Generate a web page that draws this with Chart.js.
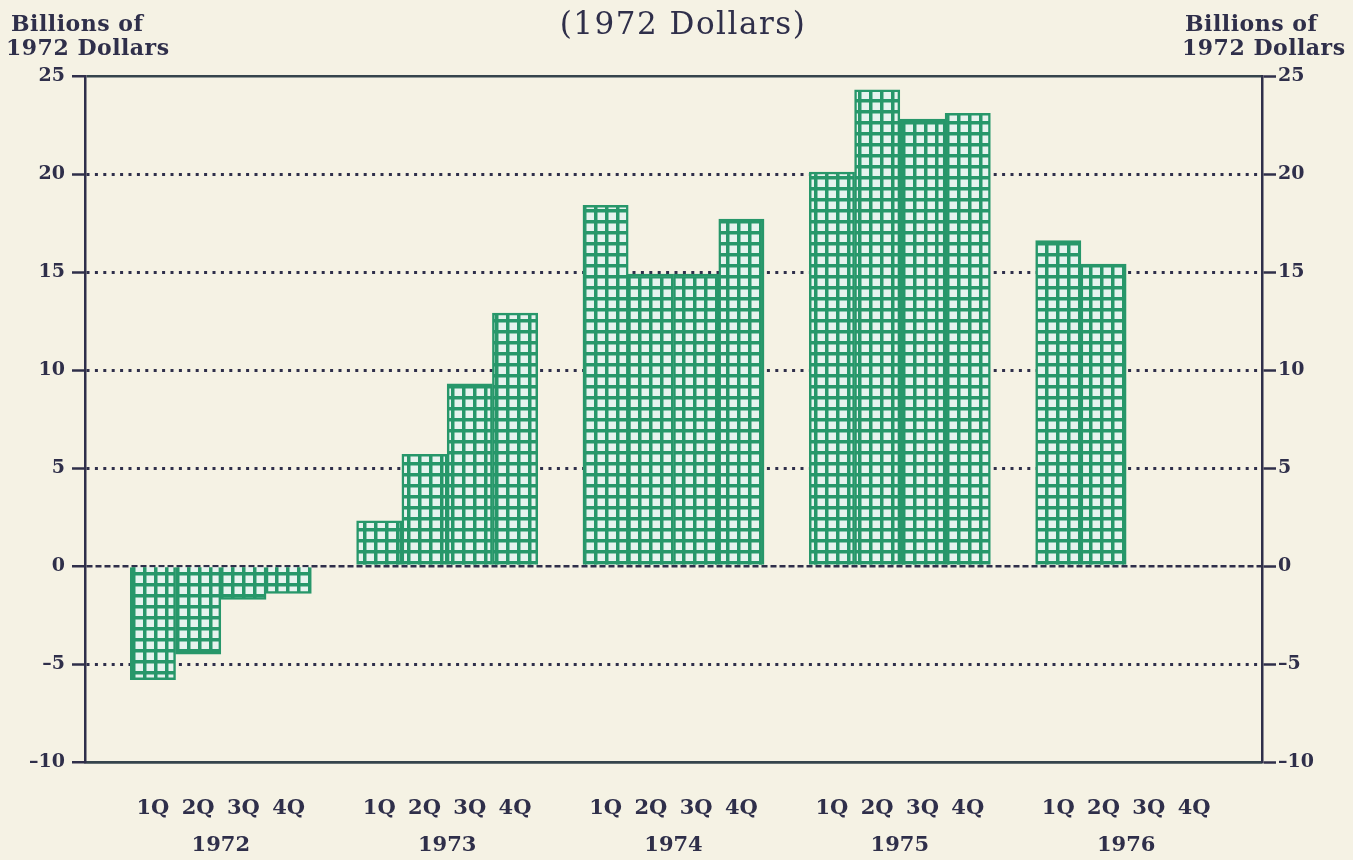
<!DOCTYPE html>
<html>
<head>
<meta charset="utf-8">
<script src="https://cdn.jsdelivr.net/npm/chart.js@4"></script>
<style>
  html, body { margin: 0; padding: 0; background: #f5f2e4; }
  #wrap { width: 1353px; height: 860px; position: relative; }
</style>
</head>
<body>
<div id="wrap"><canvas id="chart"></canvas></div>
<script>
// values (billions of 1972 dollars)
const years = ['1972', '1973', '1974', '1975', '1976'];
const quarters = ['1Q', '2Q', '3Q', '4Q'];
const q1972 = [-5.8, -4.5, -1.7, -1.4];
const q1973 = [2.3, 5.7, 9.3, 12.9];
const q1974 = [18.4, 14.9, 14.9, 17.7];
const q1975 = [20.1, 24.3, 22.8, 23.1];
const q1976 = [16.6, 15.4, null, null];
const yTicks = [-10, -5, 0, 5, 10, 15, 20, 25];

const paper = '#f5f2e4';
const ink = '#2f2f4a';
const frame = '#35444c';
const green = '#27976a';

// build category slots: an empty slot before each year and one at the end
const yearValues = [q1972, q1973, q1974, q1975, q1976];
const labels = [];
const values = [];
yearValues.forEach(vals => {
    labels.push('');
    values.push(null);
    quarters.forEach((q, i) => {
        labels.push(q);
        values.push(vals[i]);
    });
});
labels.push('');
values.push(null);

// green grid fill for the bars
function makePattern() {
    const c = document.createElement('canvas');
    c.width = 11; c.height = 11;
    const g = c.getContext('2d');
    g.fillStyle = '#e6f3ee';
    g.fillRect(0, 0, 11, 11);
    g.fillStyle = green;
    g.fillRect(0, 0, 11, 3.5);
    g.fillRect(0, 0, 3.5, 11);
    return g.createPattern(c, 'repeat');
}

const serif = '"DejaVu Serif", "Liberation Serif", serif';

const paperPlugin = {
    id: 'paper',
    beforeDraw(chart) {
        const ctx = chart.ctx;
        ctx.save();
        ctx.fillStyle = paper;
        ctx.fillRect(0, 0, chart.width, chart.height);
        ctx.restore();
    }
};

const textPlugin = {
    id: 'texts',
    afterDraw(chart) {
        const ctx = chart.ctx;
        const x = chart.scales.x;
        ctx.save();
        ctx.fillStyle = ink;

        // title
        ctx.font = '31px ' + serif;
        ctx.letterSpacing = '1.5px';
        ctx.textAlign = 'center';
        ctx.textBaseline = 'alphabetic';
        ctx.fillText('(1972 Dollars)', 683, 34);

        // axis unit labels
        ctx.font = 'bold 22px ' + serif;
        ctx.letterSpacing = '0.5px';
        ctx.textAlign = 'left';
        ctx.fillText('Billions of', 11, 31);
        ctx.fillText('1972 Dollars', 6, 55);
        ctx.fillText('Billions of', 1185, 31);
        ctx.fillText('1972 Dollars', 1182, 55);

        // year labels centred under each group
        ctx.letterSpacing = '0px';
        ctx.font = 'bold 21px ' + serif;
        ctx.textAlign = 'center';
        ctx.textBaseline = 'middle';
        years.forEach((yr, i) => {
            const i2 = i * 5 + 2;
            const cx = (x.getPixelForValue(i2) + x.getPixelForValue(i2 + 1)) / 2;
            ctx.fillText(yr, cx, 846);
        });
        ctx.restore();
    }
};

function tickText(v) {
    return v < 0 ? '\u2013' + Math.abs(v) : String(v);
}

const ctx = document.getElementById('chart').getContext('2d');
new Chart(ctx, {
    type: 'bar',
    data: {
        labels: labels,
        datasets: [{
            data: values,
            backgroundColor: makePattern(),
            borderColor: green,
            borderWidth: 2.5,
            barPercentage: 1,
            categoryPercentage: 1
        }]
    },
    options: {
        responsive: true,
        maintainAspectRatio: false,
        animation: false,
        layout: { padding: { top: 76, left: 0, right: 0, bottom: 0 } },
        plugins: {
            legend: { display: false },
            title: { display: false },
            tooltip: { enabled: false }
        },
        scales: {
            x: {
                afterFit(scale) { scale.height = 98; },
                grid: { display: false, drawTicks: false },
                border: { display: true, color: frame, width: 2.5 },
                ticks: {
                    autoSkip: false,
                    maxRotation: 0,
                    padding: 34,
                    color: ink,
                    font: { family: serif, size: 21, weight: 'bold' }
                }
            },
            y: {
                position: 'left',
                min: -10,
                max: 25,
                z: 1,
                afterFit(scale) { scale.width = 85; },
                afterBuildTicks(scale) { scale.ticks = yTicks.map(v => ({ value: v })); },
                grid: {
                    color: ctx => (ctx.tick && (ctx.tick.value === 25 || ctx.tick.value === -10)) ? frame : ink,
                    lineWidth: ctx => (ctx.tick && (ctx.tick.value === 0 || ctx.tick.value === 25 || ctx.tick.value === -10)) ? 2.5 : 3,
                    tickLength: 13,
                    tickWidth: 2.5,
                    tickColor: ink,
                    tickBorderDash: []
                },
                border: {
                    display: true,
                    color: ink,
                    width: 2.5,
                    dash: ctx => {
                        const v = ctx.tick ? ctx.tick.value : null;
                        if (v === 25 || v === -10) return [];
                        if (v === 0) return [6, 3];
                        return [3, 5.4];
                    }
                },
                ticks: {
                    padding: 7,
                    color: ink,
                    font: { family: serif, size: 19, weight: 'bold' },
                    callback: v => tickText(v)
                }
            },
            y2: {
                position: 'right',
                min: -10,
                max: 25,
                afterFit(scale) { scale.width = 91; },
                afterBuildTicks(scale) { scale.ticks = yTicks.map(v => ({ value: v })); },
                grid: {
                    drawOnChartArea: false,
                    tickLength: 14,
                    tickWidth: 2.5,
                    tickColor: ink
                },
                border: { display: true, color: ink, width: 2.5 },
                ticks: {
                    padding: 2,
                    color: ink,
                    font: { family: serif, size: 19, weight: 'bold' },
                    callback: v => tickText(v)
                }
            }
        }
    },
    plugins: [paperPlugin, textPlugin]
});
</script>
</body>
</html>
